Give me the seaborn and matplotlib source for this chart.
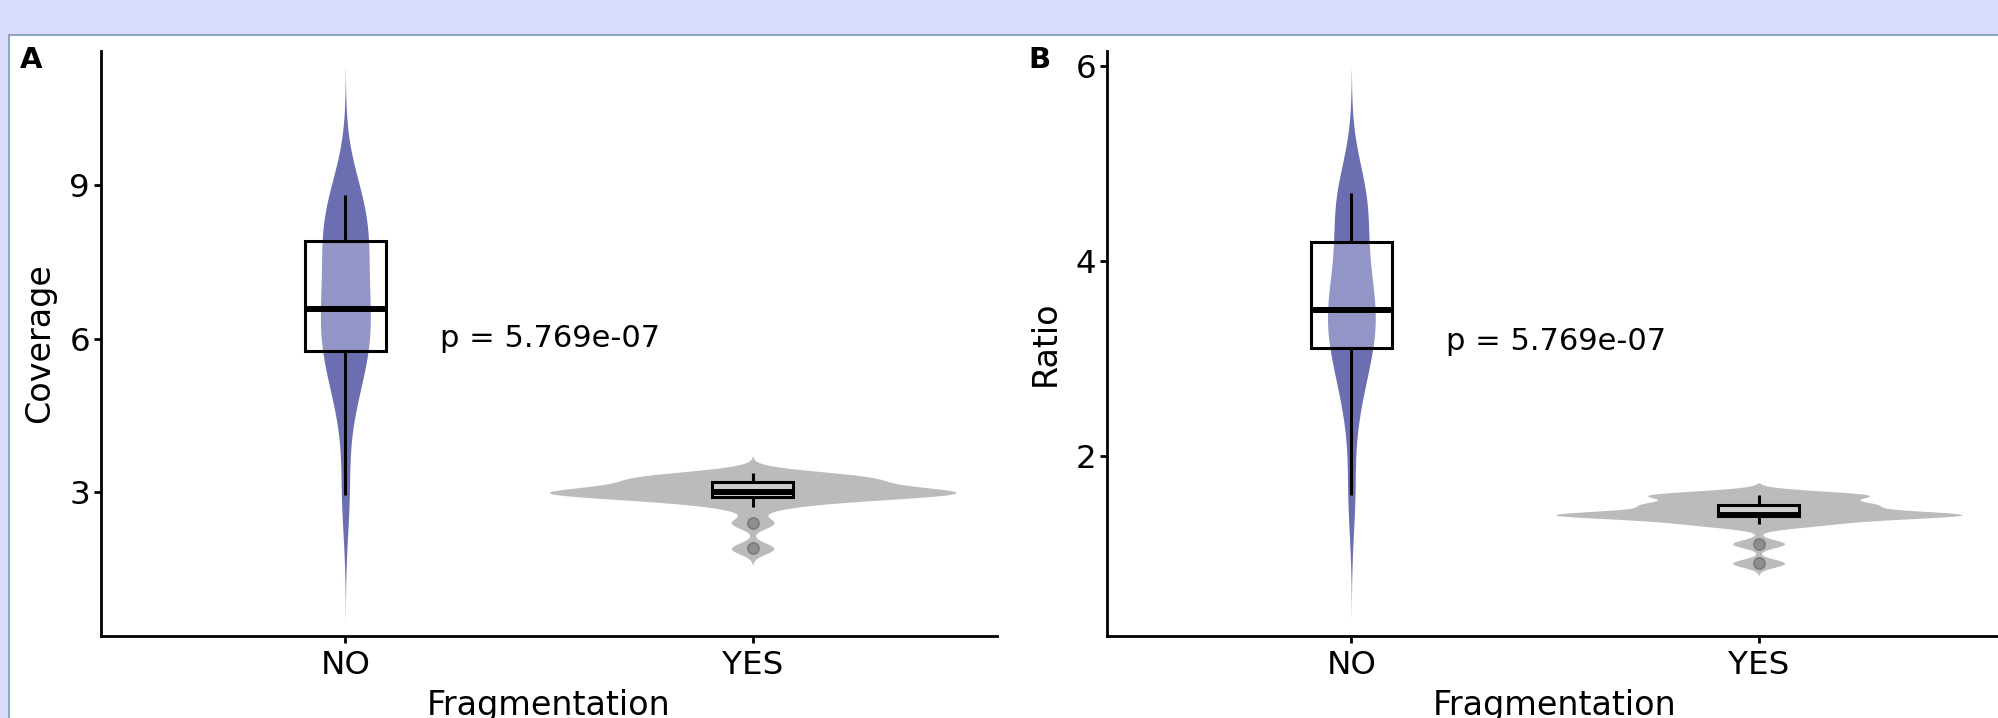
import numpy as np
import pandas as pd
import matplotlib.pyplot as plt
import seaborn as sns
from matplotlib.patches import Rectangle
from matplotlib.lines import Line2D

# data
groups = ['NO', 'YES']
coverage_no = [2.95, 4.7, 5.3, 5.6, 5.8, 6.1, 6.4, 6.5, 6.66, 7.3, 7.6, 7.8, 8.2, 8.4, 8.6, 8.8]
coverage_yes = [1.9, 2.4, 2.72, 2.85, 2.88, 2.92, 2.95, 2.98, 3.0, 3.0,
                3.0, 3.02, 3.05, 3.1, 3.2, 3.22, 3.25, 3.3, 3.32, 3.38]
ratio_no = [1.6, 2.5, 2.8, 3.0, 3.15, 3.3, 3.4, 3.45, 3.55, 3.7, 3.9, 4.1, 4.5, 4.6, 4.65, 4.7]
ratio_yes = [0.9, 1.1, 1.3, 1.3, 1.35, 1.4, 1.4, 1.4, 1.4, 1.4,
             1.4, 1.4, 1.5, 1.5, 1.5, 1.5, 1.6, 1.6, 1.6, 1.6]
p_label = 'p = 5.769e-07'
colors = {'NO': '#6b6fb1', 'YES': '#bbbbbb'}

df_cov = pd.DataFrame({'Fragmentation': ['NO'] * len(coverage_no) + ['YES'] * len(coverage_yes),
                       'Coverage': coverage_no + coverage_yes})
df_ratio = pd.DataFrame({'Fragmentation': ['NO'] * len(ratio_no) + ['YES'] * len(ratio_yes),
                         'Ratio': ratio_no + ratio_yes})


# R's default bandwidth (bw.nrd0), as a scipy kde factor
def nrd0(kde):
    x = kde.dataset[0]
    sd = np.std(x, ddof=1)
    iqr = np.subtract(*np.percentile(x, [75, 25]))
    h = 0.9 * min(sd, iqr / 1.34) * len(x) ** -0.2
    return h / sd


def panel(ax, df, col, yticks, ylim, p_y):
    sns.violinplot(data=df, x='Fragmentation', y=col, hue='Fragmentation',
                   order=groups, hue_order=groups, palette=colors, saturation=1,
                   width=1, cut=3, bw_method=nrd0, density_norm='area', common_norm=True,
                   inner=None, linewidth=0, legend=False, ax=ax)
    sns.boxplot(data=df, x='Fragmentation', y=col, order=groups, width=0.2,
                showcaps=False, linewidth=2.2,
                boxprops=dict(facecolor=(1, 1, 1, 0.27), edgecolor='black'),
                whiskerprops=dict(color='black'),
                medianprops=dict(color='black', linewidth=4.3),
                flierprops=dict(marker='o', markersize=8, markerfacecolor='#8e8e8e',
                                markeredgecolor='#7b7b7b', markeredgewidth=1.2),
                ax=ax)
    ax.text(0.232, p_y, p_label, ha='left', va='center', fontsize=22)
    ax.set_xlim(-0.6, 1.6)
    ax.set_ylim(*ylim)
    ax.set_yticks(yticks)
    ax.set_xlabel('Fragmentation', fontsize=24, labelpad=6)
    ax.set_ylabel(col, fontsize=24, labelpad=9.5)
    ax.tick_params(labelsize=23.4, length=5, width=2, color='black')
    ax.tick_params(axis='y', pad=3)
    ax.tick_params(axis='x', pad=5)
    sns.despine(ax=ax)
    for s in ['left', 'bottom']:
        ax.spines[s].set_linewidth(2)
    ax.set_facecolor('none')


fig = plt.figure(figsize=(19.99, 7.18), dpi=100)
fig.patch.set_facecolor('#dadcfe')
fig.patches.append(Rectangle((9 / 1999, 0), 1, 1 - 35 / 718, transform=fig.transFigure,
                             facecolor='white', edgecolor='none', zorder=-5))
fig.lines.append(Line2D([8.5 / 1999, 8.5 / 1999], [0, 1 - 34.5 / 718], transform=fig.transFigure,
                        color='#8fa6bf', linewidth=1.5, zorder=-4))
fig.lines.append(Line2D([8.5 / 1999, 1], [1 - 34.5 / 718, 1 - 34.5 / 718], transform=fig.transFigure,
                        color='#8fa6bf', linewidth=1.5, zorder=-4))

ax1 = fig.add_axes([101 / 1999, 82 / 718, 896 / 1999, 585 / 718])
ax2 = fig.add_axes([1107 / 1999, 82 / 718, 896 / 1999, 585 / 718])

panel(ax1, df_cov, 'Coverage', [3, 6, 9], (0.19, 11.62), 6.0)
panel(ax2, df_ratio, 'Ratio', [2, 4, 6], (0.154, 6.154), 3.17)

fig.text(20 / 1999, 1 - 46 / 718, 'A', ha='left', va='top', fontsize=21, fontweight='bold')
fig.text(1028 / 1999, 1 - 46 / 718, 'B', ha='left', va='top', fontsize=21, fontweight='bold')

plt.savefig('out.png', dpi=100)
